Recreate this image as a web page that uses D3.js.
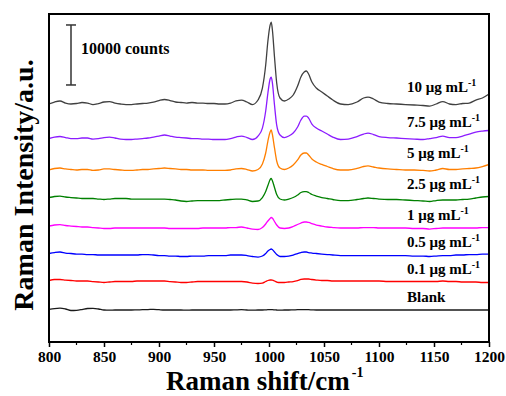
<!DOCTYPE html>
<html>
<head>
<meta charset="utf-8">
<script src="https://cdn.jsdelivr.net/npm/d3@7/dist/d3.min.js"></script>
<style>
html,body{margin:0;padding:0;background:#fff;}
svg{display:block;}
text{font-family:"Liberation Serif","Times New Roman",serif;font-weight:bold;fill:#000;}
</style>
</head>
<body>
<svg id="chart" width="506" height="396"></svg>
<script>
// ---------- data ----------
const wavenumber = [800,805,810,815,820,825,830,835,840,845,850,855,860,865,870,875,880,885,890,895,900,905,910,915,920,925,930,935,940,945,950,955,960,965,970,975,980,985,990,
994,997,999,1001,1002,1003,1005,1007,1010,
1014,1018,1022,1026,1029,1032,1034,1036,1039,1043,
1048,1053,1058,1065,1072,1080,1086,1090,1095,1100,
1108,1116,1124,1132,1140,1146,1152,1158,1164,1170,
1176,1182,1188,1194,1200];

const seriesNames = ["10 μg mL", "7.5 μg mL", "5 μg mL", "2.5 μg mL", "1 μg mL", "0.5 μg mL", "0.1 μg mL", "Blank"];
const seriesUnitSup = ["-1","-1","-1","-1","-1","-1","-1",""];
// vertical offsets used to stack the spectra (counts)
const offsets = [39500, 33830, 28670, 23750, 19000, 14330, 10000, 5330];

const s10 = [170,500,670,330,170,250,420,330,80,250,
500,580,330,170,80,80,170,250,330,500,
750,920,750,500,420,330,420,330,330,250,
250,170,170,330,670,830,500,80,830,
2830,6670,10670,13330,13830,12670,8000,3670,1170,
670,1000,1670,3170,4670,5500,5670,5170,3830,2830,
2170,1500,830,170,80,500,1170,1330,1000,500,
250,170,80,0,-80,-170,170,580,170,80,
250,330,830,1170,1830];

const s7_5 = [80,330,420,250,80,80,170,170,0,80,
250,330,170,0,-80,-80,0,80,170,330,
500,670,500,330,250,170,80,80,0,0,
-80,-80,-80,80,330,500,250,-80,500,
1830,4670,7670,10000,10330,9500,5670,2330,670,
250,500,1000,2000,3170,3830,3830,3500,2500,1830,
1330,830,330,-80,0,420,830,1000,750,420,
250,170,80,0,-80,80,250,500,250,250,
500,830,1170,1330,1420];

const s5 = [0,250,330,170,80,0,80,80,-80,0,
170,170,80,0,-80,-80,0,80,80,170,
250,330,250,170,80,80,0,0,0,-80,
-80,-80,-80,0,170,250,80,-170,80,
1000,2830,4830,6330,6670,6000,3670,1500,330,
80,330,830,1670,2500,2830,2830,2500,1830,1330,
920,580,250,0,0,250,580,670,500,330,
170,80,0,0,-80,-170,0,250,80,80,
170,250,330,580,920];

const s2_5 = [330,500,580,420,330,250,170,170,170,80,
0,80,170,170,170,80,80,80,80,80,
80,80,0,-80,-250,-330,-250,-170,-170,-170,
-170,-170,-80,0,80,80,-80,-330,-250,
330,1330,2330,3330,3500,3170,2000,830,80,
-80,80,330,750,1170,1330,1330,1170,830,580,
330,170,0,-170,-170,0,170,250,170,80,
0,0,-80,-170,-250,-330,-170,-80,-80,-80,
0,80,250,420,500];

const s1 = [330,500,580,420,330,250,170,170,80,0,
-80,-80,0,0,0,0,0,0,0,0,
0,0,-80,-80,-80,-80,-80,-80,0,0,
0,0,0,80,80,170,0,-170,-250,
80,670,1170,1580,1750,1670,1080,500,0,
-80,0,250,580,830,1000,1000,920,750,500,
330,170,80,0,0,0,80,80,80,0,
0,0,0,-80,-80,-170,-80,0,0,0,
0,0,0,80,80];

const s0_5 = [420,580,670,500,420,330,330,250,250,170,
170,170,170,170,170,170,170,250,250,170,
80,80,0,0,-80,-80,0,0,0,80,
80,80,80,170,170,170,80,-80,-170,
0,420,830,1080,1170,1080,670,250,-80,
-80,0,170,420,580,670,670,580,500,420,
330,250,170,80,80,80,80,80,80,80,
80,80,80,0,0,-80,0,80,80,170,
170,250,250,330,330];

const s0_1 = [250,420,420,330,250,170,170,170,80,0,
-80,0,80,80,80,80,170,170,170,170,
170,170,80,0,-80,-80,0,80,80,80,
80,80,80,80,80,80,0,-170,-250,
-170,80,250,330,330,300,170,0,-80,
-80,0,80,250,420,500,500,500,420,330,
250,250,170,170,170,170,170,170,170,170,
80,80,80,80,80,80,80,170,80,80,
0,0,0,-80,-80];

const sBlank = [120,250,300,170,-80,-50,80,250,280,170,
0,-30,0,0,0,0,30,50,80,120,
50,0,0,0,0,-30,0,0,0,0,
0,0,0,0,30,50,0,-30,0,
0,30,50,50,50,50,30,0,-30,
0,0,30,50,80,80,80,50,30,0,
0,0,0,0,0,0,0,0,0,0,
0,0,0,0,0,0,0,0,0,0,
0,0,0,0,0];

const seriesValues = [s10, s7_5, s5, s2_5, s1, s0_5, s0_1, sBlank];
const xTicks = [800,850,900,950,1000,1050,1100,1150,1200];
const scaleBarCounts = 10000;

// ---------- layout / style ----------
const colors = ["#404040","#8c1cff","#ff7f00","#008000","#ff00ff","#0000ff","#ff0000","#1a1a1a"];
const M = {left:49, right:489, top:14, bottom:342};
const labelX = 407;
const labelY = [92,127,158,189,220,247,274,302];

const svg = d3.select("#chart");
const x = d3.scaleLinear().domain([800,1200]).range([M.left, M.right]);
const y = d3.scaleLinear().domain([0, 54670]).range([M.bottom, M.top]);

svg.append("defs").append("clipPath").attr("id","clip")
  .append("rect").attr("x",M.left).attr("y",M.top)
  .attr("width",M.right-M.left).attr("height",M.bottom-M.top);

// spectra
const line = d3.line().curve(d3.curveMonotoneX);
const g = svg.append("g").attr("clip-path","url(#clip)");
seriesValues.forEach((vals,i)=>{
  const pts = wavenumber.map((w,k)=>[x(w), y(vals[k]+offsets[i])]);
  g.append("path").attr("d", line(pts))
    .attr("fill","none").attr("stroke",colors[i]).attr("stroke-width",1.3)
    .attr("stroke-linejoin","round");
});

// labels
seriesNames.forEach((n,i)=>{
  const t = svg.append("text").attr("x",labelX).attr("y",labelY[i])
    .attr("font-size",15);
  t.append("tspan").text(n);
  if (seriesUnitSup[i]) {
    t.append("tspan").attr("dy",-6).attr("font-size",10).text(seriesUnitSup[i]);
  }
});

// frame
svg.append("rect").attr("x",M.left).attr("y",M.top)
  .attr("width",M.right-M.left).attr("height",M.bottom-M.top)
  .attr("fill","none").attr("stroke","#000").attr("stroke-width",2);

// x axis
const xAxis = d3.axisBottom(x).tickValues(xTicks).tickSize(5).tickPadding(4).tickFormat(d3.format("d"));
const ax = svg.append("g").attr("transform",`translate(0,${M.bottom})`).call(xAxis);
ax.select(".domain").remove();
ax.selectAll(".tick line").attr("stroke","#000").attr("stroke-width",1.5);
ax.selectAll(".tick text").attr("font-size",15.5).attr("font-family","Liberation Serif, Times New Roman, serif")
  .attr("font-weight","bold").attr("fill","#000");
// minor ticks
const minor = d3.range(825,1200,50);
svg.append("g").selectAll("line").data(minor).join("line")
  .attr("x1",d=>x(d)).attr("x2",d=>x(d)).attr("y1",M.bottom).attr("y2",M.bottom+3)
  .attr("stroke","#000").attr("stroke-width",1.2);

// axis titles
const xt = svg.append("text").attr("x",166).attr("y",390)
  .attr("font-size",27);
xt.append("tspan").text("Raman shift/cm");
xt.append("tspan").attr("dx",2).attr("dy",-13).attr("font-size",14).text("-1");

svg.append("text").attr("transform",`translate(33,185) rotate(-90)`)
  .attr("text-anchor","middle").attr("font-size",28).text("Raman Intensity/a.u.");

// scale bar
const sbTop = 52840, sbX = 71;
const sb = svg.append("g").attr("stroke","#333").attr("stroke-width",1.5);
sb.append("line").attr("x1",sbX).attr("x2",sbX).attr("y1",y(sbTop)).attr("y2",y(sbTop-scaleBarCounts));
sb.append("line").attr("x1",sbX-5).attr("x2",sbX+5).attr("y1",y(sbTop)).attr("y2",y(sbTop));
sb.append("line").attr("x1",sbX-5).attr("x2",sbX+5).attr("y1",y(sbTop-scaleBarCounts)).attr("y2",y(sbTop-scaleBarCounts));
svg.append("text").attr("x",81).attr("y",54).attr("font-size",16).text("10000 counts");
</script>
</body>
</html>
